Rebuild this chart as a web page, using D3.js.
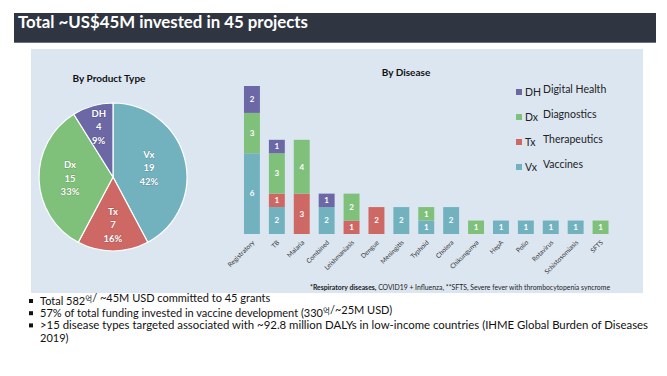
<!DOCTYPE html>
<html>
<head>
<meta charset="utf-8">
<script src="https://cdn.jsdelivr.net/npm/d3@7"></script>
<style>
  html, body { margin: 0; padding: 0; background: #fff; }
  svg { display: block; font-family: Lato, "Noto Sans", sans-serif; }
</style>
</head>
<body>
<div id="chart"></div>
<script>
// product type split
const productKeys = ["Vx", "Tx", "Dx", "DH"]
const productCounts = [19, 7, 15, 4]

// disease breakdown, stacked Vx / Tx / Dx / DH
const diseases = ["Registratory", "TB", "Malaria", "Combined", "Leishmaniasis", "Dengue", "Meningitis",
  "Typhoid", "Cholera", "Chikungunya", "HepA", "Polio", "Rotavirus", "Schistosomiasis", "SFTS"]
const vxCounts = [6, 2, 0, 2, 0, 0, 2, 1, 2, 0, 1, 1, 1, 1, 0]
const txCounts = [0, 1, 3, 0, 1, 2, 0, 0, 0, 0, 0, 0, 0, 0, 0]
const dxCounts = [3, 3, 4, 0, 2, 0, 0, 1, 0, 1, 0, 0, 0, 0, 1]
const dhCounts = [2, 1, 0, 1, 0, 0, 0, 0, 0, 0, 0, 0, 0, 0, 0]

const legendKeys = ["DH", "Dx", "Tx", "Vx"]
const legendNames = ["Digital Health", "Diagnostics", "Therapeutics", "Vaccines"]

const titleText = "Total ~US$45M invested in 45 projects"
const footnoteBold = "*Respiratory diseases,"
const footnoteRest = " COVID19 + Influenza, **SFTS, Severe fever with thrombocytopenia syncrome"
const bullets = [
  ["Total 582", "억", "/ ~45M USD committed to 45 grants"],
  ["57% of total funding invested in vaccine development (330", "억", "/~25M USD)"],
  [">15 disease types targeted associated with ~92.8 million DALYs in low-income countries (IHME Global Burden of Diseases"],
  ["2019)"]
]

const colors = { Vx: "#72b2bf", Tx: "#cd6864", Dx: "#7fc17a", DH: "#6c67a5" }

const W = 667, H = 376
const svg = d3.select("#chart").append("svg")
  .attr("width", W)
  .attr("height", H)

// header band
svg.append("rect")
  .attr("x", 14).attr("y", 13)
  .attr("width", 642).attr("height", 30)
  .attr("fill", "#2f3642")
svg.append("line")
  .attr("x1", 14).attr("x2", 656)
  .attr("y1", 42.5).attr("y2", 42.5)
  .attr("stroke", "#6b7280").attr("stroke-width", 1)
svg.append("text")
  .attr("x", 18).attr("y", 28)
  .attr("fill", "#fff")
  .attr("font-size", 17)
  .attr("font-weight", 700)
  .attr("textLength", 290)
  .attr("lengthAdjust", "spacingAndGlyphs")
  .text(titleText)

// light panel
svg.append("rect")
  .attr("x", 31).attr("y", 49)
  .attr("width", 612).attr("height", 244)
  .attr("fill", "#dce6f1")

// ---- pie ----
const pieData = productKeys.map((k, i) => ({ key: k, count: productCounts[i] }))
const total = d3.sum(productCounts)
const cx = 113, cy = 177, r = 74

svg.append("text")
  .attr("x", 109).attr("y", 82)
  .attr("text-anchor", "middle")
  .attr("font-size", 10)
  .attr("font-weight", 700)
  .attr("fill", "#111")
  .text("By Product Type")

const pie = d3.pie().sort(null).value(d => d.count)
const arc = d3.arc().innerRadius(0).outerRadius(r)
const arcs = pie(pieData)

const pieG = svg.append("g").attr("transform", `translate(${cx},${cy})`)
pieG.selectAll("path")
  .data(arcs)
  .join("path")
    .attr("d", arc)
    .attr("fill", d => colors[d.data.key])
    .attr("stroke", "#fff")
    .attr("stroke-width", 1.2)

// excel "best fit" puts labels at different depths
const labelRadius = { Vx: 37, Tx: 48, Dx: 43, DH: 52 }
const labelArcs = arcs.map(d => {
  const a = d3.arc().innerRadius(labelRadius[d.data.key]).outerRadius(labelRadius[d.data.key])
  return { d, pos: a.centroid(d) }
})

const pieLabels = pieG.selectAll("g.lbl")
  .data(labelArcs)
  .join("g")
    .attr("class", "lbl")
    .attr("transform", d => `translate(${d.pos[0]},${d.pos[1]})`)
pieLabels.each(function(l) {
  const g = d3.select(this)
  const lines = [l.d.data.key, l.d.data.count, Math.round(l.d.data.count / total * 100) + "%"]
  lines.forEach((t, i) => {
    g.append("text")
      .attr("y", (i - 1) * 13.5)
      .attr("dy", "0.35em")
      .attr("text-anchor", "middle")
      .attr("font-size", 9.5)
      .attr("font-weight", 700)
      .attr("fill", "#fff")
      .style("paint-order", "stroke")
      .attr("stroke", "rgba(0,0,0,0.18)")
      .attr("stroke-width", 1)
      .text(t)
  })
})

// ---- stacked bars ----
svg.append("text")
  .attr("x", 406).attr("y", 76)
  .attr("text-anchor", "middle")
  .attr("font-size", 10)
  .attr("font-weight", 700)
  .attr("fill", "#111")
  .text("By Disease")

const rows = diseases.map((name, i) => ({
  name, Vx: vxCounts[i], Tx: txCounts[i], Dx: dxCounts[i], DH: dhCounts[i]
}))
const stackKeys = ["Vx", "Tx", "Dx", "DH"]
const series = d3.stack().keys(stackKeys)(rows)

const x = d3.scaleBand()
  .domain(diseases)
  .range([239.5, 613])
  .paddingInner(0.36)
  .paddingOuter(0.18)

const y = d3.scaleLinear()
  .domain([0, 11])
  .range([234, 86])

const barG = svg.append("g")
series.forEach(s => {
  const segs = s.filter(d => d[1] - d[0] > 0)
  barG.selectAll(null)
    .data(segs)
    .join("rect")
      .attr("x", d => x(d.data.name))
      .attr("y", d => y(d[1]))
      .attr("width", x.bandwidth())
      .attr("height", d => y(d[0]) - y(d[1]))
      .attr("fill", colors[s.key])
  barG.selectAll(null)
    .data(segs)
    .join("text")
      .attr("x", d => x(d.data.name) + x.bandwidth() / 2)
      .attr("y", d => (y(d[0]) + y(d[1])) / 2)
      .attr("dy", "0.35em")
      .attr("text-anchor", "middle")
      .attr("font-size", 8)
      .attr("font-weight", 700)
      .attr("fill", "#fff")
      .text(d => d[1] - d[0])
})

// category axis, rotated labels
const xAxis = svg.append("g")
xAxis.selectAll("text")
  .data(diseases)
  .join("text")
    .attr("transform", d => `translate(${x(d) + x.bandwidth() / 2 + 3},${243}) rotate(-45)`)
    .attr("text-anchor", "end")
    .attr("font-size", 6.5)
    .attr("fill", "#333")
    .text(d => d)

// legend
const legend = svg.append("g")
legendKeys.forEach((k, i) => {
  const ly = 92 + i * 25
  legend.append("rect")
    .attr("x", 516).attr("y", ly - 3)
    .attr("width", 6).attr("height", 6)
    .attr("fill", colors[k])
  legend.append("text")
    .attr("x", 525).attr("y", ly + 3.5)
    .attr("font-size", 10.5)
    .attr("fill", "#222")
    .text(k)
  legend.append("text")
    .attr("x", 543).attr("y", ly + 1)
    .attr("font-size", 10.5)
    .attr("fill", "#222")
    .text(legendNames[i])
})

// footnote
const foot = svg.append("text")
  .attr("x", 310).attr("y", 289.5)
  .attr("font-size", 6.6)
  .attr("fill", "#222")
  .attr("textLength", 300)
  .attr("lengthAdjust", "spacingAndGlyphs")
foot.append("tspan").attr("font-weight", 700).text(footnoteBold)
foot.append("tspan").text(footnoteRest)

// bullet list
bullets.forEach((parts, i) => {
  const by = 305 + i * 12.2
  if (i < 3) {
    svg.append("rect")
      .attr("x", 29).attr("y", by - 6)
      .attr("width", 4).attr("height", 4)
      .attr("fill", "#111")
  }
  const t = svg.append("text")
    .attr("x", 40).attr("y", by)
    .attr("font-size", 11)
    .attr("fill", "#111")
  if (i === 2) {
    t.attr("textLength", 608).attr("lengthAdjust", "spacingAndGlyphs")
  }
  parts.forEach(p => {
    if (p === "억") {
      t.append("tspan")
        .attr("font-family", "'Noto Sans CJK KR', sans-serif")
        .attr("font-size", 7.5)
        .attr("dy", -3.5)
        .text(p)
      t.append("tspan").attr("dy", 3.5).text("")
    } else {
      t.append("tspan").text(p)
    }
  })
})
</script>
</body>
</html>
